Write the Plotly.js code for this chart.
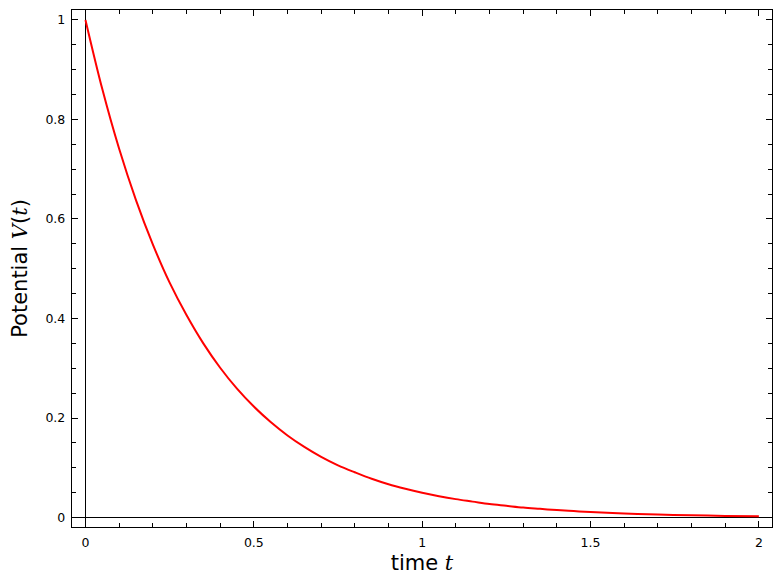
<!DOCTYPE html>
<html>
<head>
<meta charset="utf-8">
<script src="https://cdn.plot.ly/plotly-3.0.1.min.js"></script>
<style>
  html, body { margin: 0; padding: 0; background: #fff; }
  #myDiv { width: 782px; height: 583px; }
</style>
</head>
<body>
<div id="myDiv"></div>
<script>
var divId = "myDiv";

// time t
var tValues = [0, 0.05, 0.1, 0.15, 0.2, 0.25, 0.3, 0.35, 0.4, 0.45, 0.5,
  0.55, 0.6, 0.65, 0.7, 0.75, 0.8, 0.85, 0.9, 0.95, 1.0,
  1.05, 1.1, 1.15, 1.2, 1.25, 1.3, 1.35, 1.4, 1.45, 1.5,
  1.6, 1.7, 1.8, 1.9, 2.0];
// potential V(t)
var vValues = [1.0, 0.861, 0.741, 0.638, 0.549, 0.472, 0.407, 0.350, 0.301, 0.259, 0.223,
  0.192, 0.165, 0.142, 0.122, 0.105, 0.091, 0.078, 0.067, 0.058, 0.050,
  0.043, 0.037, 0.032, 0.027, 0.0235, 0.020, 0.0175, 0.015, 0.013, 0.011,
  0.008, 0.006, 0.0045, 0.0033, 0.0025];

var xTicks = [0, 0.5, 1, 1.5, 2];
var xTickText = ["0", "0.5", "1", "1.5", "2"];
var yTicks = [0, 0.2, 0.4, 0.6, 0.8, 1];
var yTickText = ["0", "0.2", "0.4", "0.6", "0.8", "1"];

var mathFont = "style=\"font-family:'DejaVu Serif', 'Liberation Serif', serif; font-style:italic\"";

var data = [
  {
    x: tValues,
    y: vValues,
    type: "scatter",
    mode: "lines",
    line: { color: "#ff0000", width: 2, shape: "spline", smoothing: 1 },
    hoverinfo: "skip"
  }
];

var layout = {
  width: 782,
  height: 583,
  margin: { l: 72, r: 10, t: 10, b: 56, pad: 0 },
  paper_bgcolor: "#ffffff",
  plot_bgcolor: "#ffffff",
  showlegend: false,
  font: { family: "DejaVu Sans, sans-serif", size: 12.5, color: "#000" },
  xaxis: {
    range: [-0.04, 2.039],
    tickvals: xTicks,
    ticktext: xTickText,
    ticks: "inside",
    ticklen: 6,
    tickwidth: 1,
    tickcolor: "#000",
    minor: { dtick: 0.1, ticks: "inside", ticklen: 4, tickwidth: 1, tickcolor: "#000", showgrid: false },
    showgrid: false,
    zeroline: true,
    zerolinecolor: "#000",
    zerolinewidth: 1,
    showline: true,
    linecolor: "#000",
    linewidth: 1.2,
    mirror: "allticks",
    tickfont: { size: 12.5 },
    ticklabelstandoff: 4,
    title: { text: "time <span " + mathFont + ">t</span>", font: { size: 21 }, standoff: 6 }
  },
  yaxis: {
    range: [-0.019, 1.02],
    tickvals: yTicks,
    ticktext: yTickText,
    ticks: "inside",
    ticklen: 6,
    tickwidth: 1,
    tickcolor: "#000",
    minor: { dtick: 0.05, ticks: "inside", ticklen: 4, tickwidth: 1, tickcolor: "#000", showgrid: false },
    showgrid: false,
    zeroline: true,
    zerolinecolor: "#000",
    zerolinewidth: 1,
    showline: true,
    linecolor: "#000",
    linewidth: 1.2,
    mirror: "allticks",
    tickfont: { size: 12.5 },
    ticklabelstandoff: 3,
    title: { text: "Potential <span " + mathFont + ">V</span>(<span " + mathFont + ">t</span>)", font: { size: 21 }, standoff: 12 }
  }
};

var display = { displayModeBar: false, staticPlot: true };

Plotly.newPlot(divId, data, layout, display);
</script>
</body>
</html>
